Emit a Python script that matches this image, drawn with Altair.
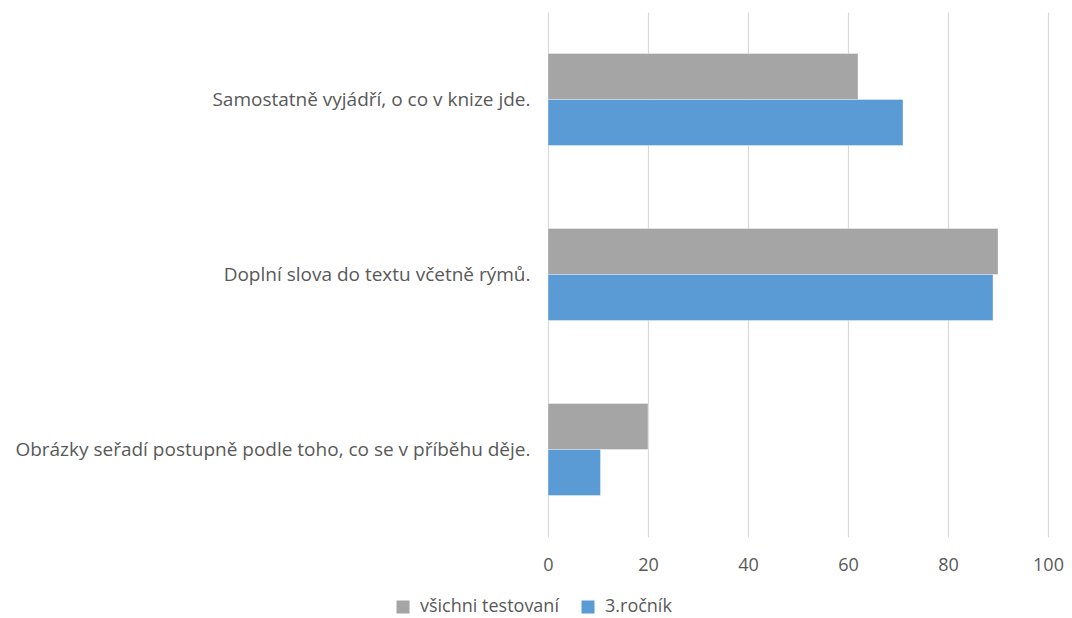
import altair as alt
import pandas as pd

categories = [
    "Samostatně vyjádří, o co v knize jde.",
    "Doplní slova do textu včetně rýmů.",
    "Obrázky seřadí postupně podle toho, co se v příběhu děje.",
]
series_names = ["všichni testovaní", "3.ročník"]
vsichni = [62, 90, 20]
rocnik3 = [71, 89, 10.5]
colors = ["#A5A5A5", "#5B9BD5"]

rows = []
for c, v in zip(categories, vsichni):
    rows.append({"cat": c, "series": series_names[0], "value": v})
for c, v in zip(categories, rocnik3):
    rows.append({"cat": c, "series": series_names[1], "value": v})
df = pd.DataFrame(rows)

font = "Open Sans"

chart = alt.Chart(df).mark_bar(stroke="white", strokeWidth=0.6, strokeOpacity=0.6).encode(
    y=alt.Y("cat:N", sort=categories, title=None,
            scale=alt.Scale(paddingInner=0.474, paddingOuter=0.237),
            axis=alt.Axis(domain=False, ticks=False, labelFontSize=19, labelColor="#595959",
                          labelFont=font, labelPadding=18, labelLimit=600)),
    yOffset=alt.YOffset("series:N", sort=series_names),
    x=alt.X("value:Q", title=None,
            scale=alt.Scale(domain=[0, 100], nice=False),
            axis=alt.Axis(values=[0, 20, 40, 60, 80, 100], domain=False, ticks=False,
                          grid=True, gridColor="#D9D9D9", gridWidth=1.2,
                          labelFlush=False,
                          labelFontSize=18, labelColor="#595959", labelFont=font,
                          labelPadding=19)),
    color=alt.Color("series:N", sort=series_names,
                    scale=alt.Scale(domain=series_names, range=colors),
                    legend=alt.Legend(title=None, orient="none", direction="horizontal",
                                      legendX=-154, legendY=586,
                                      symbolType="square", symbolSize=170,
                                      symbolStrokeWidth=0,
                                      labelFontSize=18, labelColor="#595959", labelFont=font,
                                      columnPadding=20, labelOffset=8)),
).properties(
    width=500, height=525,
    autosize=alt.AutoSizeParams(type="none"),
    padding={"left": 540, "top": 4, "right": 16, "bottom": 80},
).configure_view(stroke=None)

chart.save("out.html", embed_options={"renderer": "svg", "actions": False})
